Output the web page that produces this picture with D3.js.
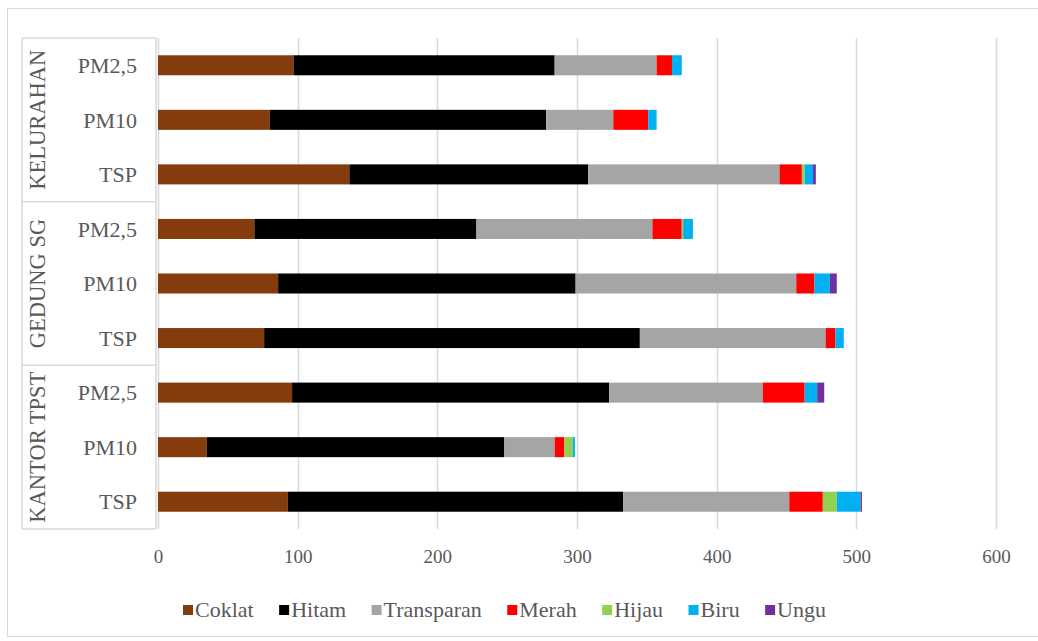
<!DOCTYPE html>
<html>
<head>
<meta charset="utf-8">
<script src="https://cdn.jsdelivr.net/npm/d3@7"></script>
<style>
  body { margin: 0; background: #fff; }
  svg text { font-family: "Liberation Serif", "Times New Roman", serif; fill: #595959; }
</style>
</head>
<body>
<svg id="chart" width="1038" height="641"></svg>
<script>
// Particle colour counts per sampling location and particle size
const groups = ["KELURAHAN", "GEDUNG SG", "KANTOR TPST"];
const particles = ["PM2,5", "PM10", "TSP"];
const seriesNames = ["Coklat", "Hitam", "Transparan", "Merah", "Hijau", "Biru", "Ungu"];
const seriesColors = ["#843C0C", "#000000", "#A5A5A5", "#FF0000", "#92D050", "#00B0F0", "#7030A0"];

// rows, top to bottom: each group x each particle size
const coklat     = [97, 80, 137, 69, 86, 76, 96, 35, 93];
const hitam      = [187, 198, 171, 159, 213, 269, 227, 213, 240];
const transparan = [73, 48, 137, 126, 158, 133, 110, 36, 119];
const merah      = [11, 25, 16, 21, 13, 7, 30, 7, 24];
const hijau      = [0, 0, 2, 1, 0, 0, 0, 6, 10];
const biru       = [7, 6, 6, 7, 11, 6, 9, 1.5, 17];
const ungu       = [0, 0, 2, 0, 5, 0, 5, 0, 1];

const xTicks = [0, 100, 200, 300, 400, 500, 600];

const seriesValues = [coklat, hitam, transparan, merah, hijau, biru, ungu];
const serif = "\"Liberation Serif\", \"Times New Roman\", serif";

const rows = [];
groups.forEach(g => particles.forEach(p => rows.push({ group: g, particle: p, id: g + "|" + p })));
const table = rows.map((r, i) => {
  const o = { id: r.id };
  seriesNames.forEach((s, k) => { o[s] = seriesValues[k][i]; });
  return o;
});

const svg = d3.select("#chart");
const gridColor = "#d9d9d9";

// outer frame
svg.append("rect")
  .attr("x", 7.5).attr("y", 8.5)
  .attr("width", 1060).attr("height", 628)
  .attr("fill", "none").attr("stroke", gridColor);

const x = d3.scaleLinear().domain([0, 600]).range([158, 996]);
const y = d3.scaleBand().domain(rows.map(r => r.id))
  .range([38, 529]).paddingInner(0.633).paddingOuter(0.3165);

// vertical gridlines
svg.append("g").selectAll("line").data(xTicks).join("line")
  .attr("x1", d => Math.round(x(d)) + 0.5).attr("x2", d => Math.round(x(d)) + 0.5)
  .attr("y1", 38).attr("y2", 529)
  .attr("stroke", gridColor).attr("stroke-width", 1.5);

// stacked bars
const stacked = d3.stack().keys(seriesNames)(table);
svg.append("g").selectAll("g").data(stacked).join("g")
  .attr("fill", (d, i) => seriesColors[i])
  .selectAll("rect").data(d => d).join("rect")
  .attr("x", d => x(d[0]))
  .attr("width", d => Math.max(0, x(d[1]) - x(d[0])))
  .attr("y", d => y(d.data.id))
  .attr("height", y.bandwidth());

// value axis labels
const xAxis = svg.append("g").attr("transform", "translate(0,529)")
  .call(d3.axisBottom(x).tickValues(xTicks).tickSize(0).tickPadding(21).tickFormat(d3.format("d")));
xAxis.attr("font-family", serif).attr("font-size", 19);
xAxis.select(".domain").remove();
xAxis.selectAll("text")
  .attr("fill", "#595959")
  .style("font-family", serif)
  .style("font-size", "19px");

// category box lines
const step = y.step();
const plotTop = 38;
const boxLeft = 22;
const boxRight = x(0) - 2;
const gBox = svg.append("g").attr("stroke", gridColor).attr("stroke-width", 1.5);
d3.range(groups.length + 1).forEach(k => {
  const yy = plotTop + k * particles.length * step;
  gBox.append("line").attr("x1", boxLeft).attr("x2", boxRight).attr("y1", yy).attr("y2", yy);
});
gBox.append("line").attr("x1", boxLeft).attr("x2", boxLeft).attr("y1", plotTop).attr("y2", plotTop + rows.length * step);
gBox.append("line").attr("x1", boxRight).attr("x2", boxRight).attr("y1", plotTop).attr("y2", plotTop + rows.length * step);

// particle size labels
svg.append("g").selectAll("text").data(rows).join("text")
  .attr("x", 137)
  .attr("y", d => y(d.id) + y.bandwidth() / 2)
  .attr("dy", "0.35em")
  .attr("text-anchor", "end")
  .style("font-family", serif)
  .style("font-size", "22px")
  .text(d => d.particle);

// group labels (rotated)
svg.append("g").selectAll("text").data(groups).join("text")
  .attr("transform", (d, i) => `translate(37,${plotTop + (i + 0.5) * particles.length * step}) rotate(-90)`)
  .attr("dy", "0.35em")
  .attr("text-anchor", "middle")
  .style("font-family", serif)
  .style("font-size", "22.5px")
  .text(d => d);

// legend
const legend = svg.append("g").attr("transform", "translate(0,609)");
const items = legend.selectAll("g").data(seriesNames).join("g");
items.append("rect")
  .attr("width", 10).attr("height", 10).attr("y", -4)
  .attr("fill", (d, i) => seriesColors[i]);
items.append("text")
  .attr("x", 12).attr("dy", "0.35em")
  .style("font-family", serif)
  .style("font-size", "22px")
  .text(d => d);
const widths = [];
items.each(function () {
  widths.push(12 + this.querySelector("text").getComputedTextLength());
});
const legendLeft = 183, legendRight = 826;
const gap = (legendRight - legendLeft - d3.sum(widths)) / (widths.length - 1);
let cursor = legendLeft;
items.attr("transform", (d, i) => {
  const t = `translate(${cursor},0)`;
  cursor += widths[i] + gap;
  return t;
});
</script>
</body>
</html>
